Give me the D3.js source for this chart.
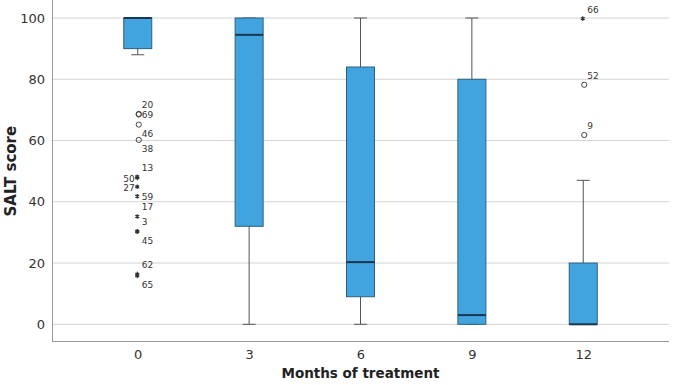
<!DOCTYPE html>
<html>
<head>
<meta charset="utf-8">
<script src="https://cdn.jsdelivr.net/npm/d3@7.9.0/dist/d3.min.js"></script>
<style>
  body { margin: 0; background: #fff; }
  svg { display: block; font-family: "DejaVu Sans", sans-serif; }
</style>
</head>
<body>
<svg id="chart" width="675" height="385"></svg>
<script>
// months on the x axis
const months = ["0", "3", "6", "9", "12"];

// box summaries per month (SALT score)
const q1 = [90, 32, 9, 0, 0];
const medians = [100, 94.5, 20.3, 3, 0];
const q3 = [100, 100, 84, 80, 20];
const whiskerLow = [88, 0, 0, 0, 0];
const whiskerHigh = [100, 100, 100, 100, 47];

// outliers: month, value, case id, kind (o = outlier, * = extreme)
const outMonth = ["0", "0", "0", "0", "0", "0", "0", "0", "0", "0", "0", "0", "0", "12", "12", "12"];
const outValue = [68.7, 68.5, 65.2, 60.2, 48.2, 47.8, 44.9, 41.8, 35.2, 30.4, 30.2, 16.4, 15.8, 99.8, 78.2, 61.8];
const outId = ["20", "69", "46", "38", "13", "50", "27", "59", "17", "3", "45", "62", "65", "66", "52", "9"];
const outKind = ["o", "o", "o", "o", "*", "*", "*", "*", "*", "*", "*", "*", "*", "*", "o", "o"];

const yTicks = [0, 20, 40, 60, 80, 100];

const svg = d3.select("#chart");
const area = { left: 52, right: 669, top: 0, bottom: 341 };

const x = d3.scalePoint().domain(months).range([area.left, area.right]).padding(0.77);
const y = d3.scaleLinear().domain([0, 100]).range([324.3, 18]);

const boxes = months.map((m, i) => ({
  m, q1: q1[i], med: medians[i], q3: q3[i], lo: whiskerLow[i], hi: whiskerHigh[i]
}));
const outliers = outValue.map((v, i) => ({
  m: outMonth[i], v, id: outId[i], kind: outKind[i]
}));

// grid
svg.append("g")
  .selectAll("line")
  .data(yTicks)
  .join("line")
  .attr("x1", area.left)
  .attr("x2", area.right)
  .attr("y1", (d) => y(d))
  .attr("y2", (d) => y(d))
  .attr("stroke", "#d4d4d4")
  .attr("stroke-width", 1);

// y axis
const yAxis = svg.append("g")
  .attr("transform", `translate(${area.left},0)`)
  .call(d3.axisLeft(y).tickValues(yTicks).tickSize(0).tickPadding(7));
yAxis.select(".domain").remove();
yAxis.selectAll("text")
  .attr("font-size", 13)
  .attr("fill", "#333")
  .attr("font-family", "DejaVu Sans, sans-serif");

svg.append("line")
  .attr("x1", area.left + 0.5).attr("x2", area.left + 0.5)
  .attr("y1", area.top).attr("y2", area.bottom)
  .attr("stroke", "#999");

// x axis
const xAxis = svg.append("g")
  .attr("transform", `translate(0,${area.bottom})`)
  .call(d3.axisBottom(x).tickSize(0).tickPadding(9));
xAxis.select(".domain").remove();
xAxis.selectAll("text")
  .attr("font-size", 13)
  .attr("fill", "#333")
  .attr("font-family", "DejaVu Sans, sans-serif");

svg.append("line")
  .attr("x1", area.left).attr("x2", area.right)
  .attr("y1", area.bottom + 0.5).attr("y2", area.bottom + 0.5)
  .attr("stroke", "#999");

// whiskers
const boxW = 28;
const capW = 13;
const g = svg.append("g");

const bx = g.selectAll("g.box").data(boxes).join("g").attr("class", "box");

bx.append("line")
  .attr("x1", (d) => x(d.m)).attr("x2", (d) => x(d.m))
  .attr("y1", (d) => y(d.lo)).attr("y2", (d) => y(d.hi))
  .attr("stroke", "#555");

bx.append("line")
  .attr("x1", (d) => x(d.m) - capW / 2).attr("x2", (d) => x(d.m) + capW / 2)
  .attr("y1", (d) => y(d.lo)).attr("y2", (d) => y(d.lo))
  .attr("stroke", "#555");

bx.append("line")
  .attr("x1", (d) => x(d.m) - capW / 2).attr("x2", (d) => x(d.m) + capW / 2)
  .attr("y1", (d) => y(d.hi)).attr("y2", (d) => y(d.hi))
  .attr("stroke", "#555");

bx.append("rect")
  .attr("x", (d) => x(d.m) - boxW / 2)
  .attr("width", boxW)
  .attr("y", (d) => y(d.q3))
  .attr("height", (d) => Math.max(1, y(d.q1) - y(d.q3)))
  .attr("fill", "#42a4de")
  .attr("stroke", "#2f5f7e")
  .attr("stroke-width", 1);

bx.append("line")
  .attr("x1", (d) => x(d.m) - boxW / 2).attr("x2", (d) => x(d.m) + boxW / 2)
  .attr("y1", (d) => y(d.med)).attr("y2", (d) => y(d.med))
  .attr("stroke", "#1b3550")
  .attr("stroke-width", 2);

// outliers
const star = d3.symbol(d3.symbolAsterisk, 14);
const og = svg.append("g");

og.selectAll("circle")
  .data(outliers.filter((d) => d.kind === "o"))
  .join("circle")
  .attr("cx", (d) => x(d.m) + 1)
  .attr("cy", (d) => y(d.v))
  .attr("r", 2.6)
  .attr("fill", "none")
  .attr("stroke", "#444")
  .attr("stroke-width", 1);

og.selectAll("path")
  .data(outliers.filter((d) => d.kind === "*"))
  .join("path")
  .attr("d", star)
  .attr("transform", (d) => `translate(${x(d.m) - 0.5},${y(d.v)})`)
  .attr("fill", "none")
  .attr("stroke", "#333")
  .attr("stroke-width", 1.2);

// label placement around each point
const labelSide = {
  "20": "up", "69": "right", "46": "down", "38": "down",
  "13": "up", "50": "left", "27": "left", "59": "right",
  "17": "up", "3": "up", "45": "down", "62": "up", "65": "down",
  "66": "up", "52": "up", "9": "up"
};

og.selectAll("text")
  .data(outliers)
  .join("text")
  .attr("x", (d) => (labelSide[d.id] === "left" ? x(d.m) - 3 : x(d.m) + 4))
  .attr("y", (d) => {
    const s = labelSide[d.id];
    const base = y(d.v) + 3;
    if (s === "up") return base - 9;
    if (s === "down") return base + 9;
    return base + 1;
  })
  .attr("text-anchor", (d) => (labelSide[d.id] === "left" ? "end" : "start"))
  .attr("font-size", 9)
  .attr("fill", "#333")
  .text((d) => d.id);

// axis titles
svg.append("text")
  .attr("x", (area.left + area.right) / 2)
  .attr("y", 378)
  .attr("text-anchor", "middle")
  .attr("font-size", 13.5)
  .attr("font-weight", "bold")
  .attr("fill", "#222")
  .text("Months of treatment");

svg.append("text")
  .attr("transform", `translate(16,${y(50)}) rotate(-90)`)
  .attr("text-anchor", "middle")
  .attr("font-size", 15)
  .attr("font-weight", "bold")
  .attr("fill", "#222")
  .text("SALT score");
</script>
</body>
</html>
